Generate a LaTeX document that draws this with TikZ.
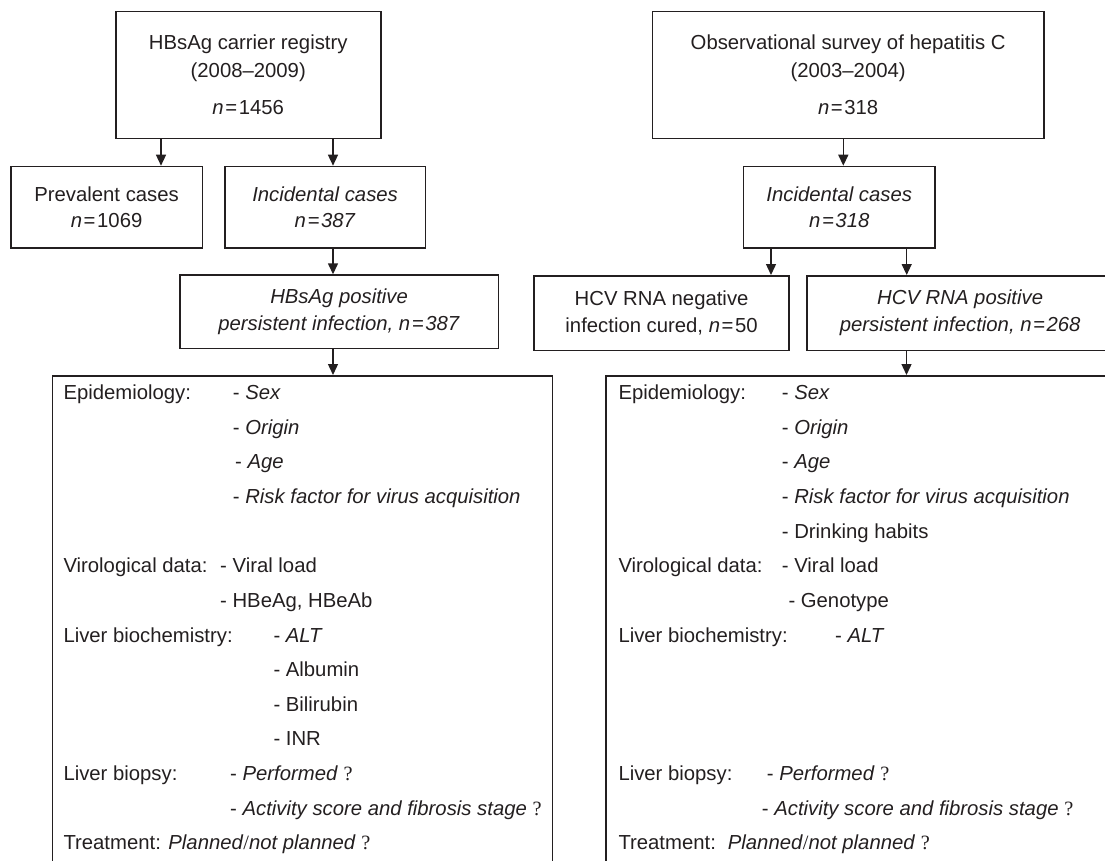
\documentclass[tikz,border=0pt]{standalone}
\usepackage{fontspec}
\setmainfont{Liberation Sans}
\newfontfamily\qfont{Liberation Serif}
\usetikzlibrary{arrows.meta}
\definecolor{ink}{HTML}{231F20}
\newcommand\qmk{{\upshape\qfont ?}}
\newcommand\slsh{{\upshape\qfont /}}
\newcommand\eqs{\kern1.6pt=\kern1.6pt}
\begin{document}
\begin{tikzpicture}[x=1pt,y=-1pt,
  box/.style={draw=ink, line width=1.5pt, rectangle, inner sep=0pt, align=center,
    text=ink, font=\fontsize{20.3}{25.5}\selectfont, anchor=north west},
  arr/.style={draw=ink, line width=1.4pt, -{Triangle[length=11pt,width=10pt]}},
  lbl/.style={anchor=base west, inner sep=0pt, text=ink, font=\fontsize{20.3}{24}\selectfont}]
\useasboundingbox (0,0) rectangle (1105,861);
\clip (0,0) rectangle (1105,861);
% ---------- left branch ----------
\node[box, minimum width=265pt, minimum height=126.7pt] (hbv) at (115,11)
  {HBsAg carrier registry\\[2.5pt](2008–2009)\\[11.5pt]\textit{n}\eqs1456};
\node[box, minimum width=191.7pt, minimum height=81.3pt] (prev) at (10,165.7)
  {Prevalent cases\\\textit{n}\eqs1069};
\node[box, minimum width=200.7pt, minimum height=81.3pt] (incL) at (224,165.7)
  {\textit{Incidental cases}\\\textit{n\eqs387}};
\node[box, minimum width=318.7pt, minimum height=73.5pt] (posB) at (179,274.3)
  {\textit{HBsAg positive}\\[1.2pt]\textit{persistent infection, n\eqs387}};
\node[box, minimum width=500.1pt, minimum height=540pt] (epiL) at (51.7,375) {};
% ---------- right branch ----------
\node[box, minimum width=391.3pt, minimum height=126.7pt] (hcv) at (651.7,11)
  {Observational survey of hepatitis C\\[2.5pt](2003–2004)\\[11.5pt]\textit{n}\eqs318};
\node[box, minimum width=191.6pt, minimum height=81.3pt] (incR) at (742.7,165.7)
  {\textit{Incidental cases}\\\textit{n\eqs318}};
\node[box, minimum width=255.1pt, minimum height=74.5pt] (neg) at (533.3,275)
  {HCV RNA negative\\[1pt]infection cured, \textit{n}\eqs50};
\node[box, minimum width=306pt, minimum height=74.5pt] (posC) at (806.4,275)
  {\textit{HCV RNA positive}\\[1pt]\textit{persistent infection, n\eqs268}};
\node[box, minimum width=540pt, minimum height=540pt] (epiR) at (605,375) {};
% ---------- connectors ----------
\draw[arr] ([xshift=46pt]hbv.south west) -- ([xshift=46pt]hbv.south west |- prev.north);
\draw[arr] ([xshift=218pt]hbv.south west) -- ([xshift=218pt]hbv.south west |- incL.north);
\draw[arr] ([xshift=109pt]incL.south west) -- ([xshift=109pt]incL.south west |- posB.north);
\draw[arr] ([xshift=154pt]posB.south west) -- ([xshift=154pt]posB.south west |- epiL.north);
\draw[arr] ([xshift=191.6pt]hcv.south west) -- ([xshift=191.6pt]hcv.south west |- incR.north);
\draw[arr] ([xshift=28.3pt]incR.south west) -- ([xshift=28.3pt]incR.south west |- neg.north);
\draw[arr] ([xshift=164pt]incR.south west) -- ([xshift=164pt]incR.south west |- posC.north);
\draw[arr] ([xshift=100.1pt]posC.south west) -- ([xshift=100.1pt]posC.south west |- epiR.north);
% ---------- left list ----------
\node[lbl] (la0) at (63.3,399.7) {Epidemiology:};
\node[lbl] (lb0) at (232.7,399.7) {- \textit{Sex}};
\node[lbl] (lb1) at (232.7,434.3) {- \textit{Origin}};
\node[lbl] (lb2) at (235,468.9) {- \textit{Age}};
\node[lbl] (lb3) at (232.7,503.6) {- \textit{Risk factor for virus acquisition}};
\node[lbl] (la5) at (63.3,572.8) {Virological data:};
\node[lbl] (lb5) at (220,572.8) {- Viral load};
\node[lbl] (lb6) at (220,607.4) {- HBeAg, HBeAb};
\node[lbl] (la7) at (63.3,642.0) {Liver biochemistry:};
\node[lbl] (lb7) at (273.3,642.0) {- \textit{ALT}};
\node[lbl] (lb8) at (273.3,676.7) {- Albumin};
\node[lbl] (lb9) at (273.3,711.3) {- Bilirubin};
\node[lbl] (lb10) at (273.3,745.9) {- INR};
\node[lbl] (la11) at (63.3,780.5) {Liver biopsy:};
\node[lbl] (lb11) at (230,780.5) {- \textit{Performed} \qmk};
\node[lbl] (lb12) at (230,815.1) {- \textit{Activity score and fibrosis stage} \qmk};
\node[lbl] (la13) at (63.3,849.8) {Treatment: \textit{Planned}\slsh\textit{not planned} \qmk};
% ---------- right list ----------
\node[lbl] (ra0) at (618.3,399.7) {Epidemiology:};
\node[lbl] (rb0) at (781.7,399.7) {- \textit{Sex}};
\node[lbl] (rb1) at (781.7,434.3) {- \textit{Origin}};
\node[lbl] (rb2) at (781.7,468.9) {- \textit{Age}};
\node[lbl] (rb3) at (781.7,503.6) {- \textit{Risk factor for virus acquisition}};
\node[lbl] (rb4) at (781.7,538.2) {- Drinking habits};
\node[lbl] (ra5) at (618.3,572.8) {Virological data:};
\node[lbl] (rb5) at (781.7,572.8) {- Viral load};
\node[lbl] (rb6) at (788.3,607.4) {- Genotype};
\node[lbl] (ra7) at (618.3,642.0) {Liver biochemistry:};
\node[lbl] (rb7) at (835,642.0) {- \textit{ALT}};
\node[lbl] (ra11) at (618.3,780.5) {Liver biopsy:};
\node[lbl] (rb11) at (766.7,780.5) {- \textit{Performed} \qmk};
\node[lbl] (rb12) at (761.7,815.1) {- \textit{Activity score and fibrosis stage} \qmk};
\node[lbl] (ra13) at (618.3,849.8) {Treatment:\hspace{12pt}\textit{Planned}\slsh\textit{not planned} \qmk};
\end{tikzpicture}
\end{document}
